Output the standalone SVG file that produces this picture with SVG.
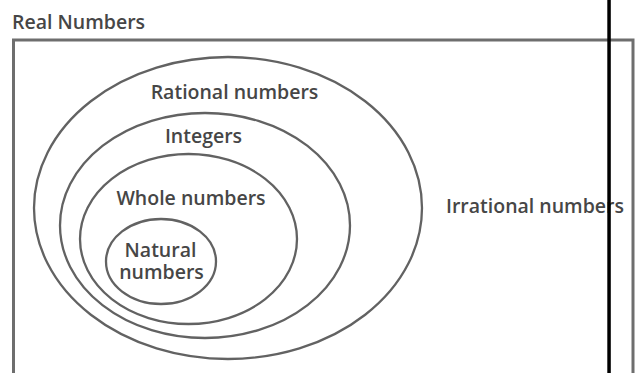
<svg xmlns="http://www.w3.org/2000/svg" width="644" height="373" viewBox="0 0 644 373">
  <style>
    .set { fill: none; stroke: #626262; stroke-width: 2.3; }
    .frame { fill: none; stroke: #6e6e6e; stroke-width: 3; }
    .label { font-family: "Open Sans", "Liberation Sans", sans-serif; font-size: 19.5px; font-weight: 600; fill: #464646; }
    .mid { text-anchor: middle; }
  </style>
  <rect width="644" height="373" fill="#ffffff"/>

  <!-- Universal set: real numbers -->
  <g id="real">
    <text class="label" x="12" y="29">Real Numbers</text>
    <path class="frame" d="M13.5,380 V40 H633 V380"/>
  </g>

  <!-- Nested subsets -->
  <g id="rational">
    <ellipse class="set" cx="228" cy="208" rx="194" ry="151"/>
    <text class="label mid" x="234.5" y="98.5">Rational numbers</text>
  </g>
  <g id="integers">
    <ellipse class="set" cx="205" cy="225.5" rx="145" ry="112.5"/>
    <text class="label mid" x="203.5" y="143">Integers</text>
  </g>
  <g id="whole">
    <ellipse class="set" cx="188.5" cy="239" rx="108.5" ry="85"/>
    <text class="label mid" x="191" y="205">Whole numbers</text>
  </g>
  <g id="natural">
    <ellipse class="set" cx="161" cy="261.5" rx="55" ry="42.5"/>
    <text class="label mid" x="160.5" y="256.5">Natural</text>
    <text class="label mid" x="161.5" y="279">numbers</text>
  </g>

  <!-- Complement region -->
  <g id="irrational">
    <text class="label mid" x="535" y="213">Irrational numbers</text>
  </g>

  <!-- Vertical divider bar -->
  <rect x="607.3" y="0" width="3.5" height="373" fill="#000000"/>
</svg>
